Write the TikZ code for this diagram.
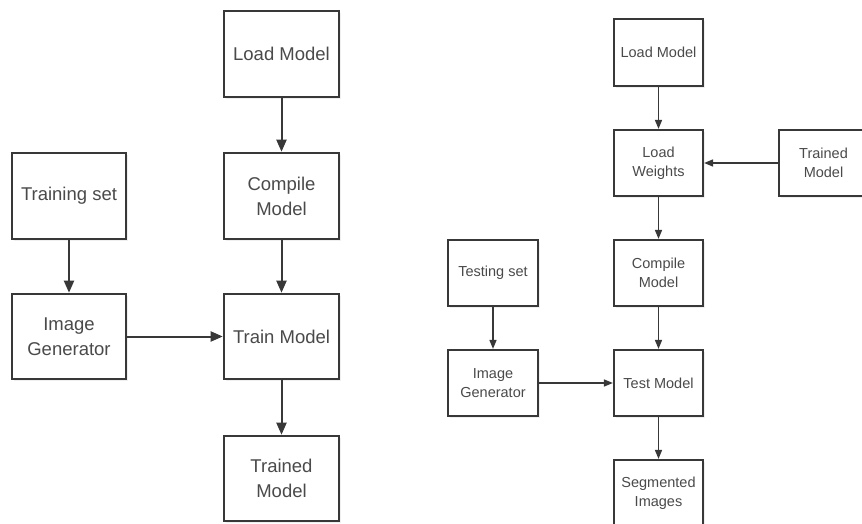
\documentclass[tikz,border=0pt]{standalone}
\usepackage{fontspec}
\setmainfont{Liberation Sans}
\usetikzlibrary{arrows.meta,shadows}
\definecolor{edgegray}{HTML}{383838}
\definecolor{textgray}{HTML}{4A4A4A}
\tikzset{
  flowbox/.style={draw=edgegray, fill=white, text=textgray, align=center,
    inner sep=0pt, rectangle,
    drop shadow={opacity=0.12, shadow xshift=1.5pt, shadow yshift=-2pt}},
  bigbox/.style={flowbox, line width=2.6pt, font=\fontsize{18.5}{25}\selectfont},
  smallbox/.style={flowbox, line width=2.2pt, font=\fontsize{14.5}{19}\selectfont},
  bigarrow/.style={draw=edgegray, line width=2pt, -{Triangle[length=12pt,width=10pt]}},
  smallarrow/.style={draw=edgegray, line width=1.5pt, -{Triangle[length=9pt,width=7pt]}}
}
\begin{document}
\begin{tikzpicture}[x=1pt,y=-1pt]
\useasboundingbox (0,0) rectangle (862,524);
\clip (0,0) rectangle (862,524);
\fill[white] (0,0) rectangle (862,524);

% training pipeline
\node[bigbox, minimum width=115pt, minimum height=86pt] (lload) at (281.5,54) {Load Model};
\node[bigbox, minimum width=115pt, minimum height=86pt] (lcomp) at (281.5,196) {Compile\\Model};
\node[bigbox, minimum width=115pt, minimum height=85pt] (ltrain) at (281.5,336.5) {Train Model};
\node[bigbox, minimum width=115pt, minimum height=85pt] (ltrained) at (281.5,478.5) {Trained\\Model};
\node[bigbox, minimum width=114pt, minimum height=86pt] (lset) at (69,196) {Training set};
\node[bigbox, minimum width=114pt, minimum height=85pt] (lgen) at (69,336.5) {Image\\Generator};

\draw[bigarrow] (lload) -- (lcomp);
\draw[bigarrow] (lcomp) -- (ltrain);
\draw[bigarrow] (ltrain) -- (ltrained);
\draw[bigarrow] (lset) -- (lgen);
\draw[bigarrow] (lgen) -- (ltrain);

% testing pipeline
\node[smallbox, minimum width=89pt, minimum height=67pt] (rload) at (658.5,52.5) {Load Model};
\node[smallbox, minimum width=89pt, minimum height=66pt] (rweights) at (658.5,163) {Load\\Weights};
\node[smallbox, minimum width=89pt, minimum height=66pt] (rtrained) at (823.5,163) {Trained\\Model};
\node[smallbox, minimum width=89pt, minimum height=66pt] (rcomp) at (658.5,273) {Compile\\Model};
\node[smallbox, minimum width=90pt, minimum height=66pt] (rset) at (493,273) {Testing set};
\node[smallbox, minimum width=90pt, minimum height=66pt] (rgen) at (493,383) {Image\\Generator};
\node[smallbox, minimum width=89pt, minimum height=66pt] (rtest) at (658.5,383) {Test Model};
\node[smallbox, minimum width=89pt, minimum height=66pt] (rseg) at (658.5,493) {Segmented\\Images};

\draw[smallarrow] (rload) -- (rweights);
\draw[smallarrow] (rtrained) -- (rweights);
\draw[smallarrow] (rweights) -- (rcomp);
\draw[smallarrow] (rcomp) -- (rtest);
\draw[smallarrow] (rset) -- (rgen);
\draw[smallarrow] (rgen) -- (rtest);
\draw[smallarrow] (rtest) -- (rseg);
\end{tikzpicture}
\end{document}
